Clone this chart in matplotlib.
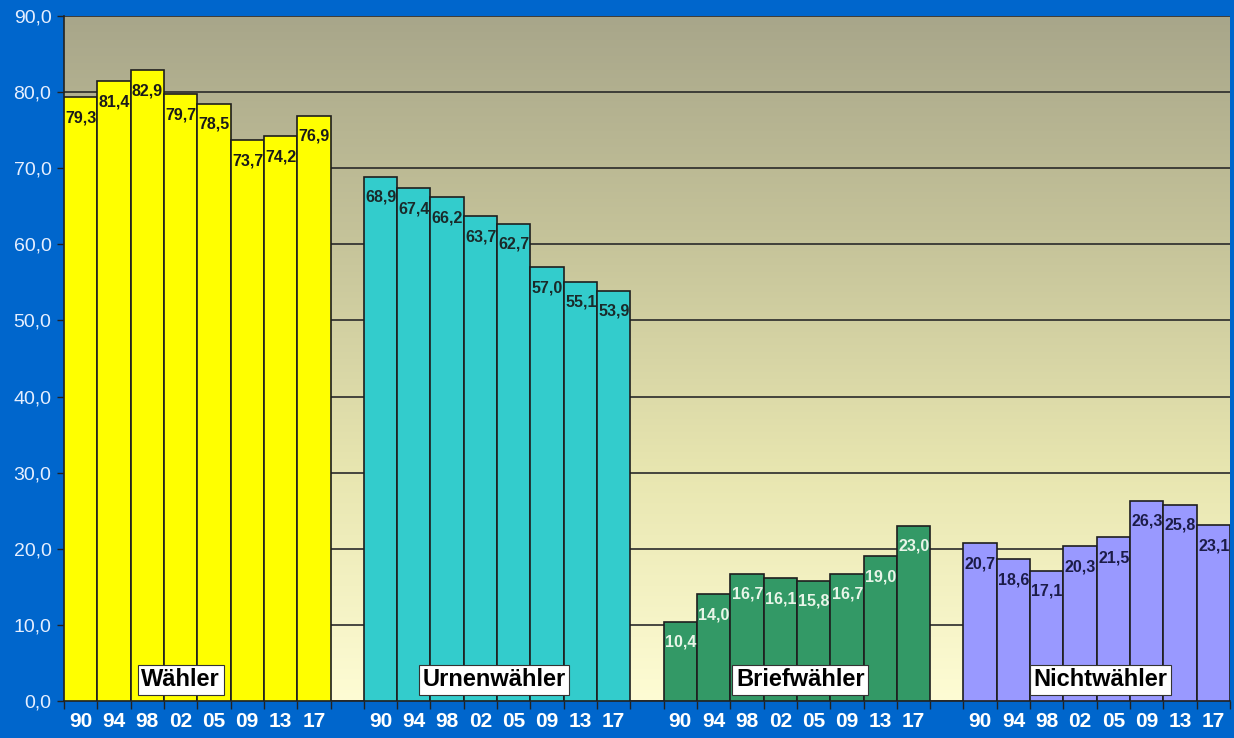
import matplotlib.pyplot as plt
import numpy as np
from matplotlib.colors import LinearSegmentedColormap

# data
years = ['90', '94', '98', '02', '05', '09', '13', '17']
groups = ['Wähler', 'Urnenwähler', 'Briefwähler', 'Nichtwähler']
waehler = [79.3, 81.4, 82.9, 79.7, 78.5, 73.7, 74.2, 76.9]
urnenwaehler = [68.9, 67.4, 66.2, 63.7, 62.7, 57.0, 55.1, 53.9]
briefwaehler = [10.4, 14.0, 16.7, 16.1, 15.8, 16.7, 19.0, 23.0]
nichtwaehler = [20.7, 18.6, 17.1, 20.3, 21.5, 26.3, 25.8, 23.1]

series = [waehler, urnenwaehler, briefwaehler, nichtwaehler]
bar_colors = ['#ffff00', '#33cccc', '#339966', '#9999ff']
text_colors = ['#1a1a1a', '#1a2a2a', '#e8f5e8', '#1c1c48']
name_shift = [-0.5, -0.1, 0.1, 0.1]

plt.rcParams['font.family'] = ['Liberation Sans', 'DejaVu Sans']

fig = plt.figure(figsize=(12.34, 7.38), dpi=100, facecolor='#0066cc')
ax = fig.add_axes([64 / 1234, 37 / 738, 1166 / 1234, 685 / 738])

# gradient background
cmap = LinearSegmentedColormap.from_list(
    'bg', ['#fefcd4', '#e8e6b0', '#c6c49a', '#a8a68a'])
grad = np.linspace(0, 1, 256).reshape(-1, 1)
ax.imshow(grad, cmap=cmap, aspect='auto', extent=[0, 35, 0, 90],
          origin='lower', zorder=0)

n = len(years)
centers = []
for g, vals in enumerate(series):
    start = g * (n + 1)
    x = start + np.arange(n) + 0.5
    centers.extend(x)
    ax.bar(x, vals, width=1.0, color=bar_colors[g], edgecolor='#1e1e1e',
           linewidth=1.2, zorder=3)
    for xi, v in zip(x, vals):
        ax.text(xi - 0.46, v - 2.7, f'{v:.1f}'.replace('.', ','),
                ha='left', va='center', fontsize=11.5, fontweight='bold',
                color=text_colors[g], zorder=4)
    ax.text(start + n / 2 + name_shift[g], 2.8, groups[g], ha='center',
            va='center', fontsize=17, fontweight='bold', color='black',
            zorder=5,
            bbox=dict(boxstyle='square,pad=0.15', facecolor='white',
                      edgecolor='#333333', linewidth=0.8))

ax.set_xlim(0, 35)
ax.set_ylim(0, 90)
ax.set_yticks(np.arange(0, 91, 10))
ax.set_yticklabels([f'{v:.1f}'.replace('.', ',') for v in np.arange(0, 91, 10)],
                   fontsize=14, color='#e6efff')
ax.yaxis.grid(True, color='#2a2a2a', linewidth=1.2, zorder=1)
ax.set_axisbelow(True)

ax.set_xticks(np.arange(0, 36))
ax.set_xticklabels([])
ax.set_xticks(centers, minor=True)
ax.set_xticklabels(years * 4, minor=True, fontsize=15, fontweight='bold',
                   color='white')
ax.tick_params(axis='x', which='major', length=6, color='#222222', width=1)
ax.tick_params(axis='x', which='minor', length=0, pad=8)
ax.tick_params(axis='y', length=5, color='#222222', width=1, pad=4)

ax.spines['top'].set_visible(False)
ax.spines['right'].set_visible(False)
ax.spines['left'].set_color('#222222')
ax.spines['bottom'].set_color('#222222')
ax.spines['left'].set_linewidth(1.2)
ax.spines['bottom'].set_linewidth(1.2)

plt.savefig('out.png', dpi=100, facecolor=fig.get_facecolor())
